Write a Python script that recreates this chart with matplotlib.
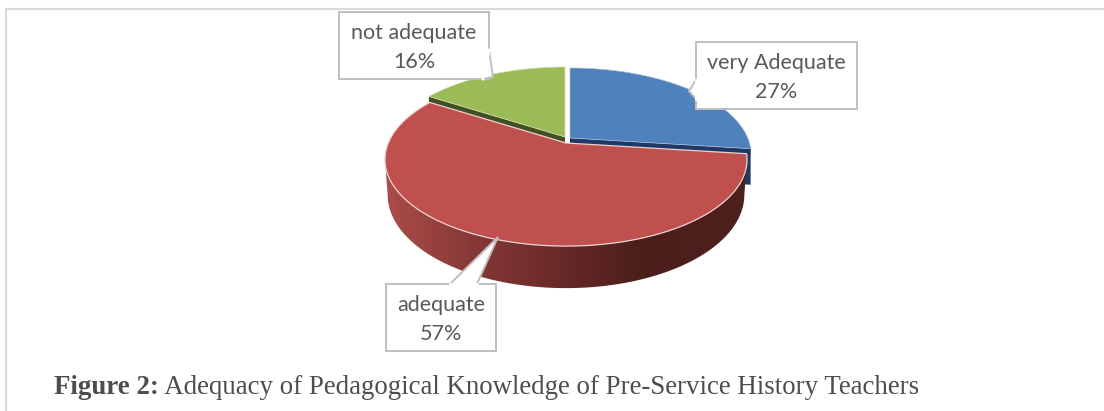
import numpy as np
import matplotlib
matplotlib.use("Agg")
import matplotlib.pyplot as plt
from matplotlib.patches import Polygon

categories = ["very Adequate", "adequate", "not adequate"]
shares = [27, 57, 16]
tops = ["#4F81BD", "#C0504D", "#9BBB59"]
walls = ["#1F3864", "#4E1F1D", "#434F22"]
offsets = [(4, -5), (0, 0), (-1, -6)]
boxes = [(696, 42, 857, 109), (386, 284, 496, 351), (339, 12, 489, 79)]
pointers = [[(696, 80), (689, 91), (696, 99)],
            [(450, 284), (498, 237), (477, 284)],
            [(489, 50), (493, 77), (483, 79)]]

CX, CY, R, S, K = 566, 143, 177.7, 83.4, 0.191
DEPTH = 34
TEXT = "#595959"
BOX = "#BFBFBF"

plt.rcParams["font.family"] = ["Lato", "DejaVu Sans"]
fig = plt.figure(figsize=(11.04, 4.11), dpi=100)
ax = fig.add_axes([0, 0, 1, 1])


def project(theta, r=1.0, off=(0, 0), drop=False):
    u, v = r * np.sin(theta), r * np.cos(theta)
    w = 1 + K * v
    scale = 0.985 if drop else 1.0
    x = CX + scale * R * u / w + off[0]
    y = CY - S * v / w + off[1]
    if drop:
        y = y + DEPTH / w
    return x, y


def side_colour(x):
    stops = [385, 470, 560, 640, 750]
    rgb = np.array([[172, 76, 73], [135, 56, 54], [105, 42, 40], [75, 30, 28], [78, 32, 30]]) / 255
    return np.column_stack([np.interp(x, stops, rgb[:, i]) for i in range(3)])


edges = np.radians(np.cumsum([0] + shares) * 3.6)
spans = list(zip(edges[:-1], edges[1:]))


def top_poly(i):
    a, b = spans[i]
    th = np.linspace(a, b, 120)
    x, y = project(th, off=offsets[i])
    ax_, ay_ = project(0.0, r=0.0, off=offsets[i])
    return np.column_stack([np.r_[ax_, x], np.r_[ay_, y]])


def radial_wall(i, theta):
    ox, oy = offsets[i]
    ax0, ay0 = project(0.0, r=0.0, off=(ox, oy))
    ex, ey = project(theta, off=(ox, oy))
    return np.array([(ax0, ay0), (ex, ey), (ex, ey + 36), (ax0, ay0 + 36)])


# blue outer sliver and the end walls that stay visible behind the red slice
a, b = spans[0]
th = np.linspace(np.pi / 2, b, 12)
xt, yt = project(th, off=offsets[0])
xb, yb = project(th, off=offsets[0], drop=True)
ax.add_patch(Polygon(np.column_stack([np.r_[xt, xb[::-1]], np.r_[yt, yb[::-1]]]),
                     fc=walls[0], ec="none", zorder=1))
ax.add_patch(Polygon(radial_wall(0, b), fc=walls[0], ec="none", zorder=1))
ax.add_patch(Polygon(radial_wall(2, spans[2][0]), fc=walls[2], ec="none", zorder=1))

ax.add_patch(Polygon(top_poly(0), fc=tops[0], ec="#A9BFDC", lw=0.5, zorder=2))
ax.add_patch(Polygon(top_poly(2), fc=tops[2], ec="#D5E2B8", lw=0.5, zorder=2))

# red slice: shaded rim (only the part facing the viewer), then its top face
a, b = spans[1]
th = np.linspace(a, b, 260)
th = th[np.cos(th) < -K]
xt, yt = project(th, off=offsets[1])
xb, yb = project(th, off=offsets[1], drop=True)
rim = Polygon(np.column_stack([np.r_[xt, xb[::-1]], np.r_[yt, yb[::-1]]]), fc="none", ec="none", zorder=3)
ax.add_patch(rim)
xs = np.arange(380, 752)
shade = ax.imshow(side_colour(xs)[np.newaxis, :, :], extent=(380, 752, 300, 100), aspect="auto",
                  interpolation="bilinear", zorder=3)
shade.set_clip_path(rim)
ax.add_patch(Polygon(top_poly(1), fc=tops[1], ec="#EBD3D2", lw=0.9, zorder=4))

# frame around the picture
ax.plot([6, 6, 1104], [411, 9, 9], color="#D9D9D9", lw=1.5, solid_joinstyle="miter", zorder=0)

# callouts
for name, share, box, ptr in zip(categories, shares, boxes, pointers):
    x0, y0, x1, y1 = box
    ax.add_patch(Polygon([(x0, y0), (x1, y0), (x1, y1), (x0, y1)], fc="white", ec=BOX, lw=1.4, zorder=5))
    ax.add_patch(Polygon(ptr, closed=False, fc="white", ec=BOX, lw=1.4, zorder=6))
    (ax_, ay_), (bx_, by_) = ptr[0], ptr[-1]
    ax.plot([ax_, bx_], [ay_, by_], color="white", lw=2, zorder=7)
    ax.text((x0 + x1) / 2, y0 + 21, name, ha="center", va="center", fontsize=15.5, color=TEXT, zorder=8)
    ax.text((x0 + x1) / 2, y0 + 50, f"{share}%", ha="center", va="center", fontsize=15.5, color=TEXT, zorder=8)

ax.set_xlim(0, 1104)
ax.set_ylim(411, 0)
ax.axis("off")

# caption
head = ax.text(54, 394, "Figure 2:", family="Liberation Serif", weight="bold", fontsize=19.35,
               color="#4D4D4D", ha="left", va="baseline")
ax.annotate(" Adequacy of Pedagogical Knowledge of Pre-Service History Teachers",
            xy=(1, 0), xycoords=head, family="Liberation Serif", fontsize=19.35,
            color="#4D4D4D", ha="left", va="bottom")

fig.savefig("out.png", dpi=100, facecolor="white")
